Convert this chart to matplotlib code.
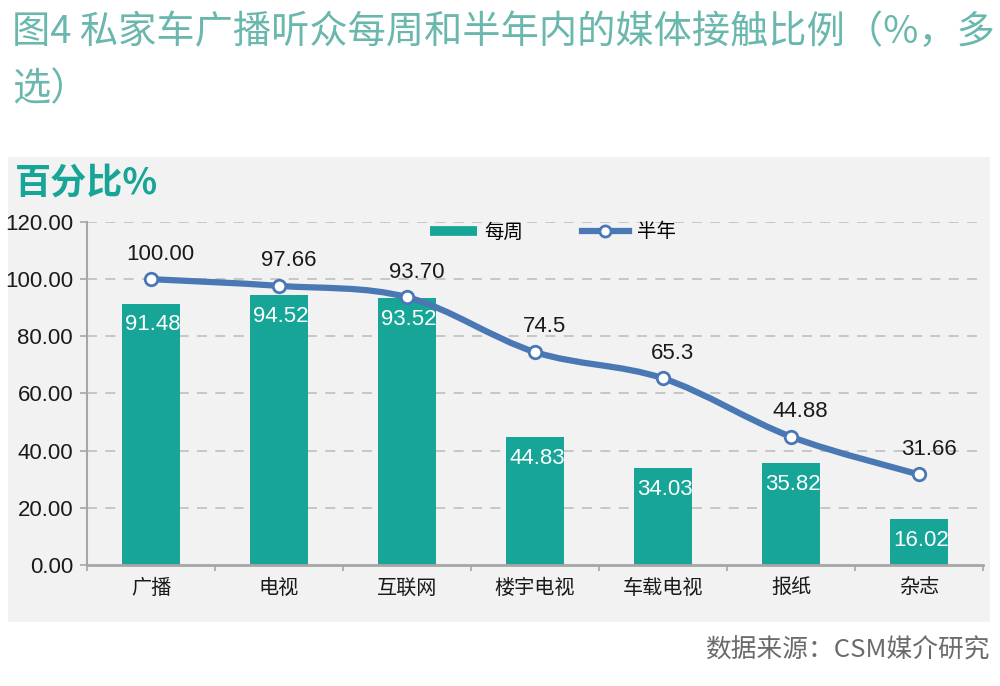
import matplotlib
matplotlib.use("Agg")
import matplotlib.pyplot as plt
from matplotlib.patches import Rectangle, PathPatch
from matplotlib.path import Path
from matplotlib.lines import Line2D

plt.rcParams['font.family'] = ['Noto Sans CJK SC', 'DejaVu Sans']

#data
categories = ["广播", "电视", "互联网", "楼宇电视", "车载电视", "报纸", "杂志"]
weekly = [91.48, 94.52, 93.52, 44.83, 34.03, 35.82, 16.02]
half_year = [100.00, 97.66, 93.70, 74.5, 65.3, 44.88, 31.66]
half_year_labels = ["100.00", "97.66", "93.70", "74.5", "65.3", "44.88", "31.66"]
y_ticks = [0, 20, 40, 60, 80, 100, 120]

teal = "#16a597"
blue = "#4a78b4"
num_font = ['Liberation Sans', 'DejaVu Sans']

fig = plt.figure(figsize=(10, 6.86), dpi=100)
fig.patch.set_facecolor("white")

#grey panel behind the chart
fig.patches.append(Rectangle((0.008, 0.0933), 0.982, 0.678,
                             transform=fig.transFigure, facecolor="#f2f2f2",
                             edgecolor="none", zorder=-5))

ax = fig.add_axes([0.087, 0.1764, 0.896, 0.5])
ax.set_facecolor("none")
ax.set_zorder(2)

x = list(range(len(categories)))
bars = ax.bar(x, weekly, width=0.45, color=teal, zorder=2)

for xi, v in zip(x, weekly):
    ax.annotate(f"{v:.2f}", (xi, v - 7.5), xytext=(1.5, 0), textcoords="offset points",
                ha="center", va="center", color="white", fontsize=16,
                family=num_font, zorder=5)

#smooth line (catmull-rom -> bezier) through half-year values
verts = [(x[0], half_year[0])]
codes = [Path.MOVETO]
n = len(x)
for i in range(n - 1):
    p0 = (x[max(i - 1, 0)], half_year[max(i - 1, 0)])
    p1 = (x[i], half_year[i])
    p2 = (x[i + 1], half_year[i + 1])
    p3 = (x[min(i + 2, n - 1)], half_year[min(i + 2, n - 1)])
    c1 = (p1[0] + (p2[0] - p0[0]) / 6, p1[1] + (p2[1] - p0[1]) / 6)
    c2 = (p2[0] - (p3[0] - p1[0]) / 6, p2[1] - (p3[1] - p1[1]) / 6)
    verts += [c1, c2, p2]
    codes += [Path.CURVE4] * 3
ax.add_patch(PathPatch(Path(verts, codes), facecolor="none", edgecolor=blue,
                       linewidth=4.5, capstyle="round", zorder=3))
ax.plot(x, half_year, linestyle="none", marker="o", markersize=9,
        markerfacecolor="white", markeredgecolor=blue, markeredgewidth=2, zorder=4)

for xi, v, lab in zip(x, half_year, half_year_labels):
    ax.annotate(lab, (xi, v + 8.8), xytext=(7, 0), textcoords="offset points",
                ha="center", va="center", color="#1a1a1a", fontsize=16,
                family=num_font, zorder=5)

ax.set_xlim(-0.5, 6.5)
ax.set_ylim(0, 120)
ax.set_yticks(y_ticks)
ax.set_yticklabels([f"{t:.2f}" for t in y_ticks], family=num_font, fontsize=16,
                   color="#1a1a1a")
ax.set_xticks(x)
ax.set_xticklabels(categories, fontsize=14.5, color="#1a1a1a")
ax.set_xticks([i - 0.5 for i in range(n + 1)], minor=True)
ax.tick_params(axis="x", which="major", length=0, pad=9)
ax.tick_params(axis="x", which="minor", length=4, color="#a6a6a6", width=1.2)
ax.tick_params(axis="y", length=5, color="#a6a6a6", width=1.2, pad=5)

for y in y_ticks[1:]:
    ax.axhline(y, color="#bfbfbf", linestyle=(0, (6, 5)), linewidth=1.2, zorder=1)

for side in ["top", "right"]:
    ax.spines[side].set_visible(False)
ax.spines["left"].set_color("#a6a6a6")
ax.spines["left"].set_linewidth(1.5)
ax.spines["bottom"].set_color("#a6a6a6")
ax.spines["bottom"].set_linewidth(2)

#legend
handles = [Line2D([0], [0], color=teal, linewidth=7, solid_capstyle="butt"),
           Line2D([0], [0], color=blue, linewidth=4.5, marker="o", markersize=8,
                  markerfacecolor="white", markeredgecolor=blue, markeredgewidth=2)]
leg = ax.legend(handles, ["每周", "半年"], loc="center", bbox_to_anchor=(0.52, 0.971),
                ncol=2, frameon=False, fontsize=14, handlelength=2.4,
                columnspacing=3.0, handletextpad=0.4)

#texts
fig.text(0.015, 0.733, "百分比%", fontsize=26, fontweight="bold", color=teal,
         va="center", ha="left")
fig.text(0.012, 0.953, "图4 私家车广播听众每周和半年内的媒体接触比例（%，多",
         fontsize=27.5, color="#6ab7ad", fontweight="light", va="center", ha="left")
fig.text(0.012, 0.869, "选）", fontsize=27.5, color="#6ab7ad", fontweight="light",
         va="center", ha="left")
fig.text(0.99, 0.052, "数据来源：CSM媒介研究", fontsize=18.5, color="#6b6b6b",
         va="center", ha="right")

fig.savefig("out.png", dpi=100)
